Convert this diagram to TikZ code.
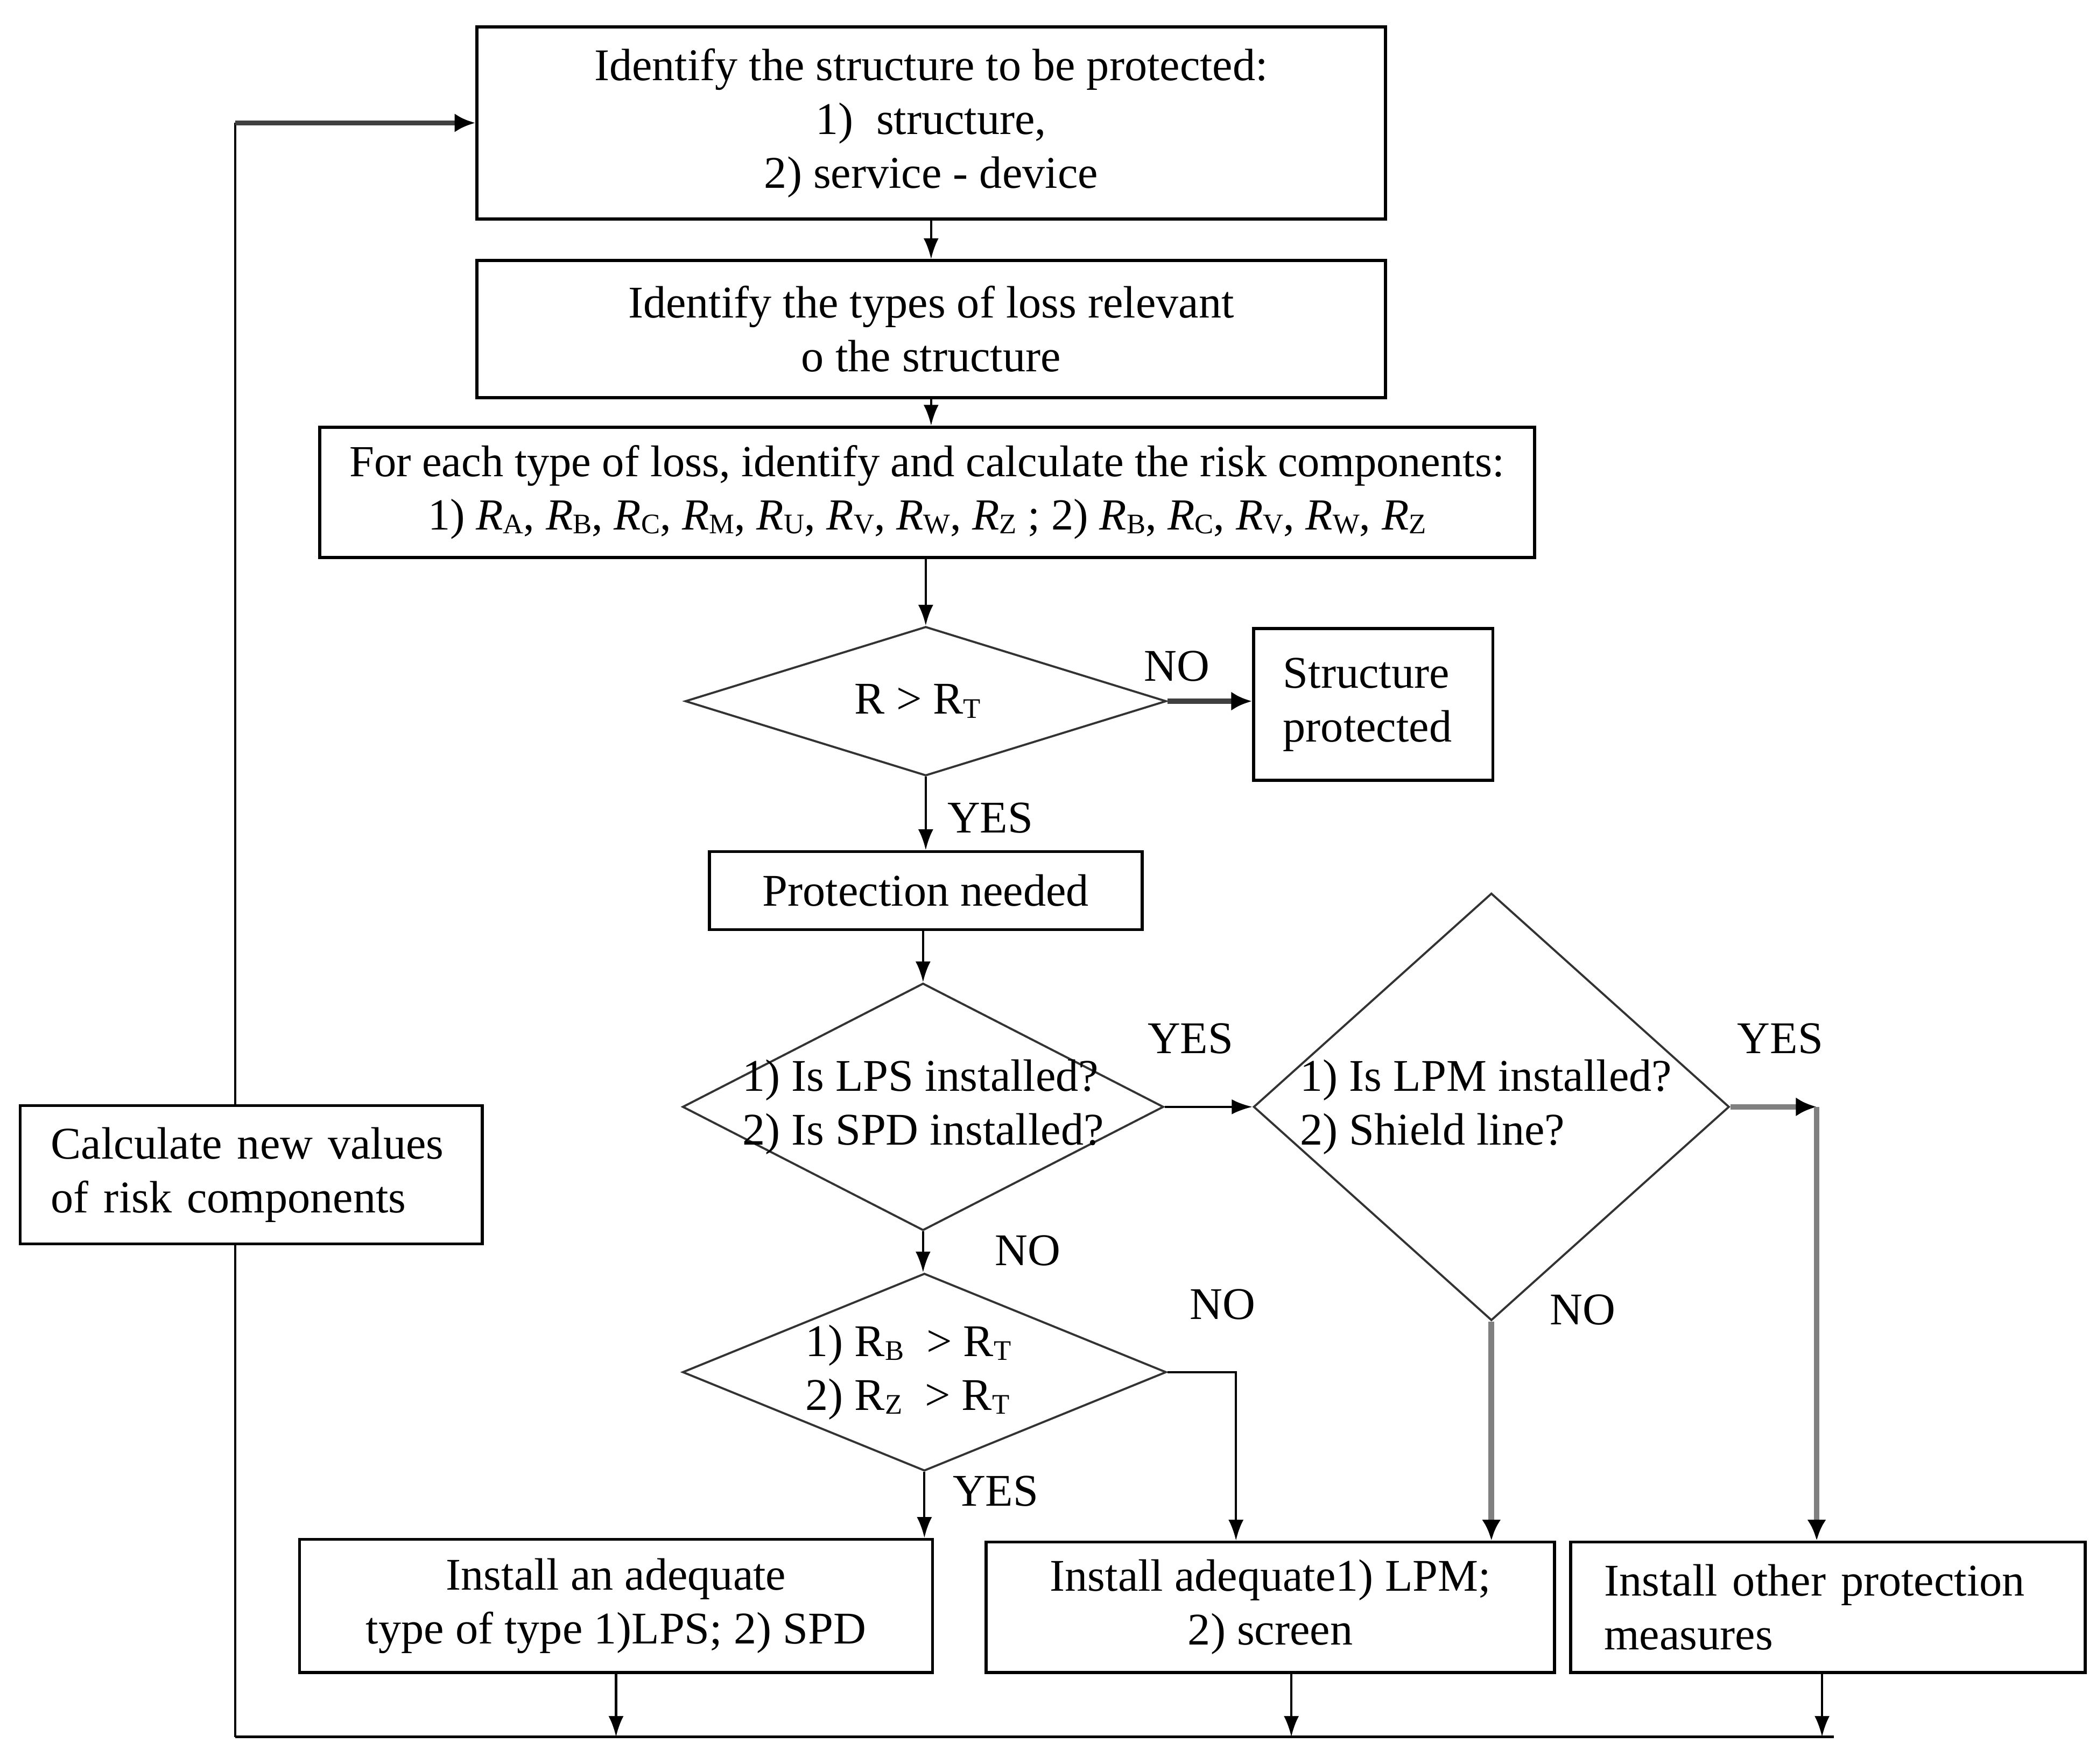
\documentclass[tikz,border=0pt]{standalone}
\usepackage{fontspec}
\setmainfont{Liberation Serif}
\usetikzlibrary{positioning,calc,shapes.geometric,arrows.meta}

\newcommand{\flowfont}{\fontsize{24}{28.5}\selectfont}
\newcommand{\subcap}[1]{\raisebox{-0.2ex}{\fontsize{15}{15}\selectfont #1}}
\newcommand{\riskc}[1]{\textit{R}\subcap{#1}}
\newcommand{\riskup}[1]{R\subcap{#1}}

\begin{document}
\begin{tikzpicture}[x=0.025cm,y=-0.025cm,>={Latex[length=11pt,width=8pt]}]
		
		\tikzset{
			stepbox/.style={draw=black, line width=1.6pt, fill=white, align=center,
				inner sep=0pt, font=\flowfont},
			decision/.style={diamond, draw=black!80, line width=1.1pt, inner sep=0pt},
			dtext/.style={align=left, inner sep=0pt, font=\flowfont},
			lbl/.style={inner sep=0pt, font=\flowfont},
			flow/.style={line width=1.2pt},
			boldflow/.style={draw=black!75, line width=2.6pt, -{Latex[length=11pt,width=10pt,black]}},
			grayflow/.style={draw=black!50, line width=3pt, -{Latex[length=11pt,width=10pt,black]}}
		}
		
		\useasboundingbox (0,0) rectangle (1560,1313);
		
		% ===== KHỐI CHÍNH (GIỮA) =====
		\node[stepbox, minimum width=16.9cm, minimum height=3.575cm] (ident) at (693,91.5)
		{Identify the structure to be protected:\\
			1)~~structure,\\
			2) service - device};
		
		\node[stepbox, minimum width=16.9cm, minimum height=2.55cm] (types) at (693,245)
		{Identify the types of loss relevant\\
			o the structure};
		
		\node[stepbox, font=\fontsize{23.5}{28}\selectfont, minimum width=22.6cm, minimum height=2.425cm] (comp) at (690,366.5)
		{For each type of loss, identify and calculate the risk components:\\
			1) \riskc{A}, \riskc{B}, \riskc{C}, \riskc{M}, \riskc{U}, \riskc{V}, \riskc{W}, \riskc{Z} ;
			2) \riskc{B}, \riskc{C}, \riskc{V}, \riskc{W}, \riskc{Z}};
		
		\node[decision, minimum width=8.95cm, minimum height=2.775cm,
		label={[dtext, name=d1txt, xshift=-0.15cm]center:R > \riskup{T}}] (d1) at (689,522) {};
		
		\node[stepbox, align=left, text width=3.35cm, minimum width=4.45cm, minimum height=2.825cm] (safe) at (1022,524.5)
		{Structure\\protected};
		
		\node[stepbox, minimum width=8.05cm, minimum height=1.45cm] (need) at (689,663)
		{Protection needed};
		
		\node[decision, minimum width=8.95cm, minimum height=4.6cm,
		label={[dtext, name=d2txt]center:{1) Is LPS installed?\\2) Is SPD installed?}}] (d2) at (687,824) {};
		
		\node[decision, minimum width=8.85cm, minimum height=7.95cm,
		label={[dtext, name=d3txt, xshift=-0.1cm]center:{1) Is LPM installed?\\2) Shield line?}}] (d3) at (1110,824) {};
		
		\node[decision, minimum width=9cm, minimum height=3.675cm,
		label={[dtext, name=d4txt, xshift=-0.3cm]center:{1) \riskup{B}~ > \riskup{T}\\2) \riskup{Z}~ > \riskup{T}}}] (d4) at (688,1021.5) {};
		
		% ===== KHỐI BÊN TRÁI =====
		\node[stepbox, align=left, text width=7.45cm, minimum width=8.6cm, minimum height=2.575cm] (calc) at (187,874.5)
		{\makebox[\linewidth][s]{Calculate new values}\\of risk components};
		
		% ===== 3 KHỐI DƯỚI =====
		\node[stepbox, minimum width=11.775cm, minimum height=2.475cm] (lps) at (458.5,1195.5)
		{Install an adequate\\type of type 1)LPS; 2) SPD};
		
		\node[stepbox, minimum width=10.575cm, minimum height=2.425cm] (lpm) at (945.5,1196.5)
		{Install adequate1) LPM;\\2) screen};
		
		\node[stepbox, align=left, text width=8.325cm, minimum width=9.575cm, minimum height=2.425cm] (other) at (1360.5,1196.5)
		{Install other protection\\measures};
		
		% ===== NHÃN YES / NO =====
		\node[lbl] (no1) at (876,496) {NO};
		\node[lbl] (yes1) at (737,609) {YES};
		\node[lbl] (yes2) at (886,773) {YES};
		\node[lbl] (no2) at (765,931) {NO};
		\node[lbl] (no4) at (910,971) {NO};
		\node[lbl] (yes4) at (741,1110) {YES};
		\node[lbl] (yes3) at (1325,773) {YES};
		\node[lbl] (no3) at (1178,975) {NO};
		
		% ===== MŨI TÊN =====
		\draw[flow,->] (ident) -- (types);
		\draw[flow,->] (types.south) -- (types.south |- comp.north);
		\draw[flow,->] (d1.north |- comp.south) -- (d1.north);
		\draw[boldflow] (d1.east) -- (d1.east -| safe.west);
		\draw[flow,->] (d1.south) -- (need.north);
		\draw[flow,->] (d2.north |- need.south) -- (d2.north);
		\draw[flow,->] (d2.east) -- (d3.west);
		\draw[flow,->] (d2.south) -- (d2.south |- d4.north);
		\draw[flow,->] (d4.south) -- (d4.south |- lps.north);
		\draw[flow,->] (d4.east) -| ([xshift=-0.64cm]lpm.north);
		
		\draw[grayflow] (d3.south) -- (d3.south |- lpm.north);
		\coordinate (yesc) at ([xshift=-0.21cm]other.north |- d3.east);
		\draw[grayflow] (d3.east) -- (yesc);
		\draw[grayflow] (yesc) -- (yesc |- other.north);
		
		% ===== VÒNG LẶP VỀ ĐẦU =====
		\coordinate (back) at (175,1293);
		\coordinate (backend) at (1365,1293);
		\coordinate (corner) at (back |- ident.west);
		\draw[flow] (back) -- (backend);
		\draw[flow,->] (lps.south) -- (lps.south |- back);
		\draw[flow,->] ([xshift=0.39cm]lpm.south) -- ([xshift=0.39cm]lpm.south |- back);
		\draw[flow,->] ([xshift=-0.11cm]other.south) -- ([xshift=-0.11cm]other.south |- back);
		\draw[flow] (back) -- (back |- calc.south);
		\draw[flow] (back |- calc.north) -- (corner);
		\draw[boldflow] (corner) -- (ident.west);
		
	\end{tikzpicture}
\end{document}
